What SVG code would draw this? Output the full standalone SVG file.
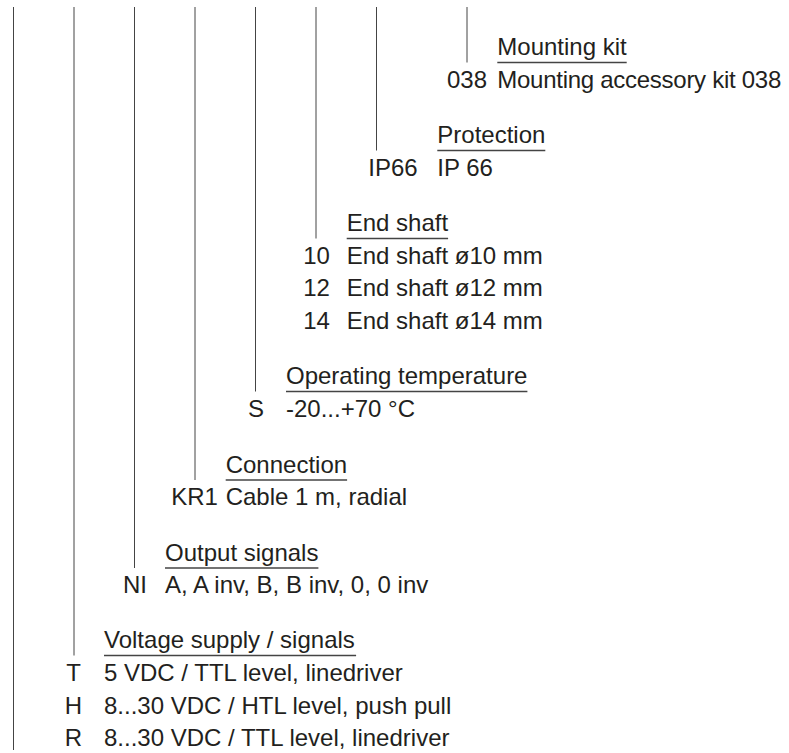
<svg xmlns="http://www.w3.org/2000/svg" width="789" height="753" viewBox="0 0 789 753">
<style>
text{font-family:"Liberation Sans",Arial,sans-serif;font-size:24px;fill:#231f20}
.c{text-anchor:middle}
.u{stroke:#444;stroke-width:1.3}
.v{stroke:#444;stroke-width:1;fill:none}
</style>
<rect width="789" height="753" fill="#fff"/>
<g id="connectors">
<line class="v" x1="13.5" y1="7" x2="13.5" y2="750"/>
<line class="v" x1="74" y1="7" x2="74" y2="655.5"/>
<line class="v" x1="134.5" y1="7" x2="134.5" y2="568"/>
<line class="v" x1="195" y1="7" x2="195" y2="480"/>
<line class="v" x1="255.5" y1="7" x2="255.5" y2="391.5"/>
<line class="v" x1="316" y1="7" x2="316" y2="238.5"/>
<line class="v" x1="376.5" y1="7" x2="376.5" y2="150.5"/>
<line class="v" x1="467" y1="7" x2="467" y2="62.5"/>
</g>
<g id="mounting">
<text x="497.3" y="55">Mounting kit</text>
<line class="u" x1="497.3" y1="62.5" x2="626.7" y2="62.5"/>
<text class="c" x="467" y="87.5">038</text>
<text x="497.3" y="87.5" textLength="284" lengthAdjust="spacing">Mounting accessory kit 038</text>
</g>
<g id="protection">
<text x="437.3" y="143">Protection</text>
<line class="u" x1="437.3" y1="150.5" x2="545.3" y2="150.5"/>
<text x="368.3" y="175.5">IP66</text>
<text x="437.3" y="175.5">IP 66</text>
</g>
<g id="endshaft">
<text x="346.7" y="231">End shaft</text>
<line class="u" x1="346.7" y1="238.5" x2="448.1" y2="238.5"/>
<text class="c" x="316.5" y="263.5">10</text>
<text x="346.7" y="263.5">End shaft ø10 mm</text>
<text class="c" x="316.5" y="296">12</text>
<text x="346.7" y="296">End shaft ø12 mm</text>
<text class="c" x="316.5" y="328.5">14</text>
<text x="346.7" y="328.5">End shaft ø14 mm</text>
</g>
<g id="temperature">
<text x="286" y="384">Operating temperature</text>
<line class="u" x1="286" y1="391.5" x2="527.4" y2="391.5"/>
<text class="c" x="256" y="416.5">S</text>
<text x="286" y="416.5">-20...+70 °C</text>
</g>
<g id="connection">
<text x="225.7" y="472.5">Connection</text>
<line class="u" x1="225.7" y1="480" x2="347.1" y2="480"/>
<text class="c" x="194.5" y="505">KR1</text>
<text x="225.7" y="505">Cable 1 m, radial</text>
</g>
<g id="output">
<text x="165" y="560.5">Output signals</text>
<line class="u" x1="165" y1="568" x2="318.4" y2="568"/>
<text class="c" x="135" y="593">NI</text>
<text x="165" y="593">A, A inv, B, B inv, 0, 0 inv</text>
</g>
<g id="voltage">
<text x="104" y="648">Voltage supply / signals</text>
<line class="u" x1="104" y1="655.5" x2="356.1" y2="655.5"/>
<text class="c" x="73.5" y="681">T</text>
<text x="104" y="681">5 VDC / TTL level, linedriver</text>
<text class="c" x="73.5" y="713.5">H</text>
<text x="104" y="713.5">8...30 VDC / HTL level, push pull</text>
<text class="c" x="73.5" y="746">R</text>
<text x="104" y="746">8...30 VDC / TTL level, linedriver</text>
</g>
</svg>
